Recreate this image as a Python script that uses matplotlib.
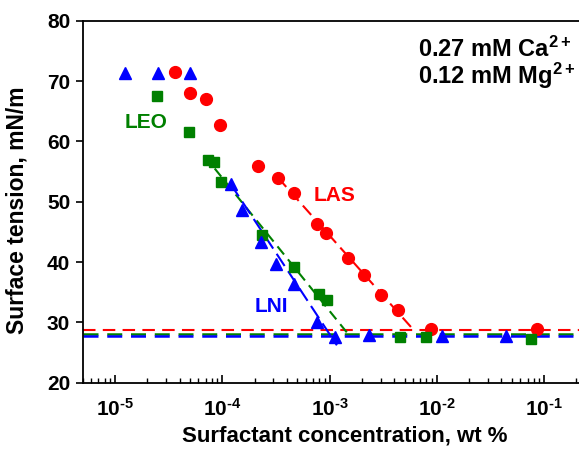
import numpy as np
import matplotlib
matplotlib.use("Agg")
import matplotlib.pyplot as plt
from matplotlib.ticker import LogLocator, NullFormatter, FixedLocator

plt.rcParams['font.family'] = 'Liberation Sans'
plt.rcParams['font.weight'] = 'bold'
plt.rcParams['axes.labelweight'] = 'bold'
plt.rcParams['mathtext.fontset'] = 'custom'
plt.rcParams['mathtext.rm'] = 'Liberation Sans:bold'
plt.rcParams['mathtext.bf'] = 'Liberation Sans:bold'
plt.rcParams['mathtext.it'] = 'Liberation Sans:bold'
plt.rcParams['mathtext.default'] = 'bf'

# LAS (red circles)
las_x = [3.6e-5, 5e-5, 7e-5, 9.5e-5, 2.15e-4, 3.3e-4, 4.66e-4, 7.6e-4, 9.2e-4,
         1.47e-3, 2.1e-3, 3.0e-3, 4.35e-3, 8.9e-3, 0.085]
las_y = [71.5, 68.1, 67.1, 62.7, 55.9, 54.0, 51.5, 46.3, 44.75,
         40.6, 37.8, 34.5, 32.0, 28.9, 28.9]

# LEO (green squares)
leo_x = [2.45e-5, 4.9e-5, 7.3e-5, 8.3e-5, 9.7e-5, 2.37e-4, 4.66e-4, 7.96e-4,
         9.55e-4, 4.5e-3, 7.9e-3, 0.075]
leo_y = [67.5, 61.6, 56.9, 56.5, 53.2, 44.5, 39.2, 34.7,
         33.7, 27.5, 27.5, 27.3]

# LNI (blue triangles)
lni_x = [1.25e-5, 2.5e-5, 5e-5, 1.2e-4, 1.54e-4, 2.28e-4, 3.15e-4, 4.66e-4,
         7.7e-4, 1.12e-3, 2.33e-3, 1.12e-2, 0.044]
lni_y = [71.3, 71.3, 71.3, 52.9, 48.6, 43.35, 39.6, 36.3,
         30.1, 27.6, 27.9, 27.7, 27.7]

# fitted slopes (start, end) and plateau levels
las_fit_x = [3.3e-4, 6.1e-3]
las_fit_y = [54.0, 28.7]
leo_fit_x = [8.5e-5, 1.5e-3]
leo_fit_y = [55.5, 28.0]
lni_fit_x = [1.2e-4, 1.17e-3]
lni_fit_y = [52.9, 26.2]
plateau = {'LAS': 28.7, 'LEO': 28.0, 'LNI': 27.7}

decades = [1e-5, 1e-4, 1e-3, 1e-2, 1e-1]
decade_labels = [r'$10^{\text{-}5}$', r'$10^{\text{-}4}$', r'$10^{\text{-}3}$',
                 r'$10^{\text{-}2}$', r'$10^{\text{-}1}$']

red = '#ff0000'
green = '#008000'
blue = '#0000ff'

fig = plt.figure(figsize=(5.79, 4.51), dpi=100)
ax = fig.add_axes([0.1428, 0.1514, 0.9824, 0.8027])

ax.axhline(plateau['LAS'], color=red, lw=1.5, dashes=(6, 3.5), zorder=2)
ax.axhline(plateau['LEO'], color=green, lw=1.8, dashes=(6, 3.5), zorder=2)
ax.axhline(plateau['LNI'], color=blue, lw=1.8, dashes=(6, 3.5), zorder=2)

ax.plot(las_fit_x, las_fit_y, color=red, lw=1.5, dashes=(6, 3), zorder=2)
ax.plot(leo_fit_x, leo_fit_y, color=green, lw=1.5, dashes=(5, 3), zorder=2)
ax.plot(lni_fit_x, lni_fit_y, color=blue, lw=1.5, dashes=(7, 3), zorder=2)

ax.plot(las_x, las_y, 'o', color=red, ms=8.5, mec=red, zorder=3)
ax.plot(leo_x, leo_y, 's', color=green, ms=7.8, mec=green, zorder=3)
ax.plot(lni_x, lni_y, '^', color=blue, ms=9, mec=blue, zorder=4)

ax.text(1.95e-5, 63.2, 'LEO', color=green, fontsize=15, ha='center', va='center')
ax.text(1.11e-3, 51.1, 'LAS', color=red, fontsize=15, ha='center', va='center')
ax.text(2.87e-4, 32.7, 'LNI', color=blue, fontsize=15, ha='center', va='center')

ax.text(6.6e-3, 74.0, r'0.27 mM Ca$^{2+}$', fontsize=17, ha='left', va='baseline')
ax.text(6.6e-3, 69.6, r'0.12 mM Mg$^{2+}$', fontsize=17, ha='left', va='baseline')

ax.set_xscale('log')
ax.set_xlim(5e-6, 1)
ax.set_ylim(20, 80)

ax.xaxis.set_major_locator(FixedLocator(decades))
ax.set_xticklabels(decade_labels)
ax.xaxis.set_minor_locator(LogLocator(base=10, subs=np.arange(2, 10)))
ax.xaxis.set_minor_formatter(NullFormatter())
ax.set_yticks(np.arange(20, 81, 10))

ax.tick_params(axis='x', which='major', direction='in', length=6, width=1.2,
               pad=11, labelsize=15)
ax.tick_params(axis='x', which='minor', direction='in', length=3.5, width=1.0)
ax.tick_params(axis='y', which='major', direction='out', length=5, width=1.2,
               pad=4, labelsize=15)

for s in ax.spines.values():
    s.set_linewidth(1.3)

ax.set_xlabel('Surfactant concentration, wt %', fontsize=16, fontweight='bold')
ax.set_ylabel('Surface tension, mN/m', fontsize=16.5, fontweight='bold')
ax.xaxis.set_label_coords((345 - 82.7) / 568.8, -0.117)
ax.yaxis.set_label_coords((29 - 82.7) / 568.8, 0.476)

fig.savefig('out.png', dpi=100)
